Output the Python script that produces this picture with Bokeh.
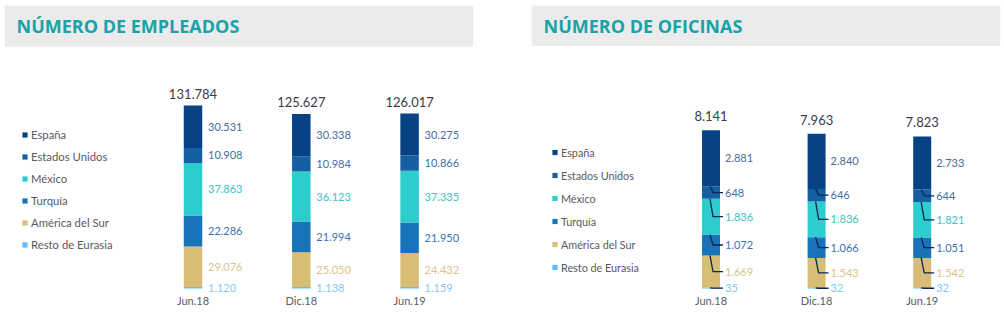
from bokeh.plotting import figure
from bokeh.models import (ColumnDataSource, LabelSet, Label, BoxAnnotation,
                          Legend, LegendItem, FixedTicker, Range1d)
from bokeh.core.properties import value
from bokeh.layouts import row
from bokeh.embed import file_html
from bokeh.resources import INLINE

# ---------------- data ----------------
categories = ["Jun.18", "Dic.18", "Jun.19"]
series = ["España", "Estados Unidos", "México", "Turquía", "América del Sur", "Resto de Eurasia"]

# Número de empleados
emp_espana = [30531, 30338, 30275]
emp_eeuu = [10908, 10984, 10866]
emp_mexico = [37863, 36123, 37335]
emp_turquia = [22286, 21994, 21950]
emp_amsur = [29076, 25050, 24432]
emp_resto = [1120, 1138, 1159]

# Número de oficinas
ofi_espana = [2881, 2840, 2733]
ofi_eeuu = [648, 646, 644]
ofi_mexico = [1836, 1836, 1821]
ofi_turquia = [1072, 1066, 1051]
ofi_amsur = [1669, 1543, 1542]
ofi_resto = [35, 32, 32]

# ---------------- styles ----------------
bar_colors = ["#074384", "#1560a2", "#2dcccd", "#1973b8", "#d8be75", "#5bbeff"]
label_colors = ["#476b9b", "#3f6fa8", "#3dc3c5", "#3a72b3", "#dac38c", "#84c9f2"]
TITLE_COLOR = "#18a2a9"
HEADER_BG = "#ebebeb"
TOTAL_COLOR = "#3b3b48"
CAT_COLOR = "#5a5a66"
LEGEND_COLOR = "#595963"
LEADER_COLOR = "#0a2650"
FONT = "Lato"
TITLE_FONT = "Open Sans"
NAN = float("nan")


def fmt(v):
    return f"{v:,}".replace(",", ".")


def make_panel(title, values, cfg):
    W, H, MT = 502, 324, 5
    ml, mr, mb = cfg["ml"], cfg["mr"], cfg["mb"]
    pad = 5  # pixels of frame below the bar base
    fw = W - ml - mr
    fh = H - MT - mb
    xp = cfg["xp"]
    n = len(categories)
    totals = [sum(v[i] for v in values) for i in range(n)]
    ypp = cfg["bar_px"] / max(totals)
    x0 = -cfg["c0"] / xp
    x_range = Range1d(x0, x0 + fw / xp)
    y_end = (fh - pad) / ypp
    y_range = Range1d(-pad / ypp, y_end)

    p = figure(width=W, height=H, x_range=x_range, y_range=y_range,
               output_backend="svg", toolbar_location=None, title=None,
               min_border_left=ml, min_border_right=mr,
               min_border_top=MT, min_border_bottom=mb,
               y_axis_location=None, outline_line_color=None,
               background_fill_color="white", border_fill_color="white")
    p.xgrid.visible = False
    p.ygrid.visible = False

    # header
    p.add_layout(BoxAnnotation(bottom=y_end - 41 / ypp, fill_color=HEADER_BG,
                               fill_alpha=1, line_color=None))
    p.add_layout(Label(x=x0 + 12 / xp, y=y_end - 20.5 / ypp, text=title,
                       text_font=TITLE_FONT, text_font_style="bold",
                       text_font_size="18px", text_color=TITLE_COLOR,
                       text_baseline="middle", text_align="left"))

    # stacked bars (bottom -> top)
    order = list(range(len(series)))[::-1]
    data = {"x": list(range(n))}
    stackers = []
    for j in order:
        key = f"s{j}"
        data[key] = values[j]
        stackers.append(key)
    src = ColumnDataSource(data)
    p.vbar_stack(stackers, x="x", width=cfg["bw"] / xp, source=src,
                 fill_color=[bar_colors[j] for j in order], line_color=None)

    # segment labels
    lx, ly, lt, lc = [], [], [], []
    lead_xs, lead_ys = [], []
    for i in range(n):
        cum = 0
        for j in order:
            v = values[j][i]
            yc = cum + v / 2
            lx.append(i)
            ly.append(yc)
            lt.append(fmt(v))
            lc.append(label_colors[j])
            if cfg["leaders"] and j != 0:
                top = cum + v
                lead_xs.append([i - 1 / xp, i + 2 / xp, i + 12 / xp])
                lead_ys.append([top, yc, yc])
            cum += v
    lsrc = ColumnDataSource(dict(x=lx, y=ly, text=lt, color=lc))
    if lead_xs:
        p.multi_line(xs=lead_xs, ys=lead_ys, line_color=LEADER_COLOR, line_width=1.3)
    p.add_layout(LabelSet(x="x", y="y", text="text", source=lsrc,
                          x_offset=cfg["lab_off"], text_color="color",
                          text_font=value(FONT), text_font_size=value("11px"),
                          text_align="left", text_baseline="middle"))

    # totals
    tsrc = ColumnDataSource(dict(x=list(range(n)), y=totals, text=[fmt(t) for t in totals]))
    p.add_layout(LabelSet(x="x", y="y", text="text", source=tsrc,
                          y_offset=cfg["tot_off"], text_color=value(TOTAL_COLOR),
                          text_font=value(FONT), text_font_size=value("13px"),
                          text_align="center", text_baseline="middle"))

    # legend
    items = []
    for j, s in enumerate(series):
        r = p.scatter(x=[NAN], y=[NAN], marker="square", fill_color=bar_colors[j],
                      line_color=None)
        items.append(LegendItem(label=s, renderers=[r]))
    lh = cfg["leg_h"]
    legend = Legend(items=items, location=cfg["leg_loc"], orientation="vertical",
                    glyph_width=13, glyph_height=lh, label_height=lh,
                    label_standoff=0, spacing=cfg["leg_sp"], padding=0, margin=0,
                    border_line_color=None, background_fill_alpha=0,
                    label_text_font=FONT, label_text_font_size=cfg["leg_fs"],
                    label_text_color=LEGEND_COLOR)
    p.add_layout(legend)

    # category axis
    ax = p.xaxis[0]
    ax.ticker = FixedTicker(ticks=list(range(n)))
    ax.major_label_overrides = {i: c for i, c in enumerate(categories)}
    ax.axis_line_color = None
    ax.major_tick_line_color = None
    ax.minor_tick_line_color = None
    ax.major_tick_in = 0
    ax.major_tick_out = 0
    ax.major_label_standoff = 0
    ax.major_label_text_font = FONT
    ax.major_label_text_font_size = "11px"
    ax.major_label_text_color = CAT_COLOR
    return p


emp_values = [emp_espana, emp_eeuu, emp_mexico, emp_turquia, emp_amsur, emp_resto]
ofi_values = [ofi_espana, ofi_eeuu, ofi_mexico, ofi_turquia, ofi_amsur, ofi_resto]

left_cfg = dict(ml=4, mr=29, mb=31, xp=108.3, c0=188.5, bw=18.5, bar_px=183,
                lab_off=15, tot_off=12, leaders=False, leg_loc=(14, 41),
                leg_sp=7, leg_h=15, leg_fs="11.3px")
right_cfg = dict(ml=29, mr=4, mb=28, xp=105.6, c0=179.5, bw=18, bar_px=160,
                 lab_off=14, tot_off=14, leaders=True, leg_loc=(17, 19),
                 leg_sp=9, leg_h=14, leg_fs="10.8px")

p1 = make_panel("NÚMERO DE EMPLEADOS", emp_values, left_cfg)
p2 = make_panel("NÚMERO DE OFICINAS", ofi_values, right_cfg)

layout = row(p1, p2)
open("out.html", "w").write(file_html(layout, INLINE))
